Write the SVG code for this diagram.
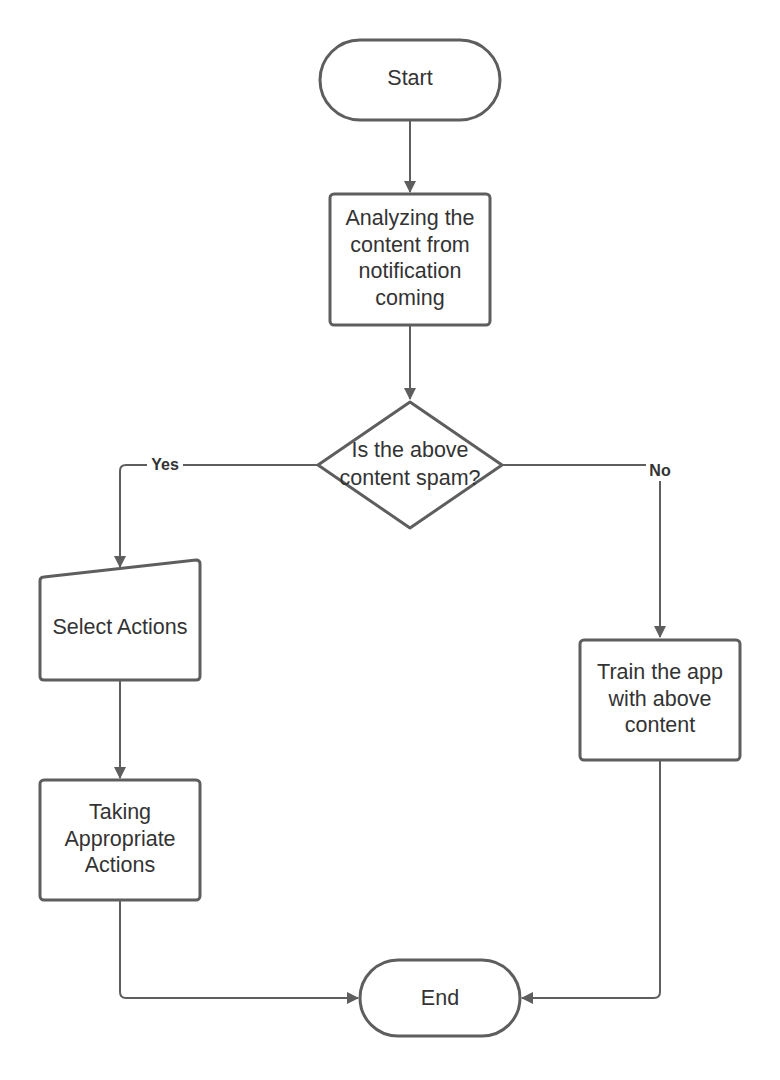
<svg xmlns="http://www.w3.org/2000/svg" width="780" height="1080" viewBox="0 0 780 1080">
<style>
.n{fill:#fff;stroke:#5e5e5e;stroke-width:3}
.c{fill:none;stroke:#5e5e5e;stroke-width:2}
.t{font-family:"Liberation Sans",Arial,sans-serif;font-size:21.5px;fill:#333;text-anchor:middle}
.l{font-family:"Liberation Sans",Arial,sans-serif;font-size:16px;font-weight:bold;fill:#333;text-anchor:middle}
</style>
<defs>
<marker id="a" viewBox="0 0 12 12" refX="11" refY="6" markerWidth="12" markerHeight="12" markerUnits="userSpaceOnUse" orient="auto">
<path d="M0,0 L12,6 L0,12 z" fill="#5e5e5e"/>
</marker>
</defs>
<rect width="780" height="1080" fill="#fff"/>
<g id="connectors">
<path class="c" d="M410,121 V192" marker-end="url(#a)"/>
<path class="c" d="M410,326 V399" marker-end="url(#a)"/>
<path class="c" d="M317,465 H126 Q120,465 120,471 V567" marker-end="url(#a)"/>
<path class="c" d="M502,465 H654 Q660,465 660,471 V637" marker-end="url(#a)"/>
<path class="c" d="M120,681 V778" marker-end="url(#a)"/>
<path class="c" d="M120,901 V992 Q120,998 126,998 H358" marker-end="url(#a)"/>
<path class="c" d="M660,761 V992 Q660,998 654,998 H522" marker-end="url(#a)"/>
<rect x="147" y="455" width="36" height="20" fill="#fff"/>
<text class="l" x="165" y="470">Yes</text>
<rect x="646" y="461" width="28" height="20" fill="#fff"/>
<text class="l" x="660" y="476">No</text>
</g>
<g id="start">
<rect class="n" x="320" y="40" width="180" height="80" rx="40"/>
<text class="t" x="410" y="85">Start</text>
</g>
<g id="analyze">
<rect class="n" x="330" y="194" width="160" height="131" rx="4"/>
<text class="t" x="410" y="225">Analyzing the</text>
<text class="t" x="410" y="252">content from</text>
<text class="t" x="410" y="278">notification</text>
<text class="t" x="410" y="305">coming</text>
</g>
<g id="decision">
<path class="n" d="M410,402 L502,465 L410,528 L318,465 Z" stroke-linejoin="round"/>
<text class="t" x="410" y="457">Is the above</text>
<text class="t" x="410" y="485">content spam?</text>
</g>
<g id="select">
<path class="n" d="M44,577 L196,560 Q200,560 200,564 V676 Q200,680 196,680 H44 Q40,680 40,676 V581 Q40,577 44,577 Z"/>
<text class="t" x="120" y="634">Select Actions</text>
</g>
<g id="taking">
<rect class="n" x="40" y="780" width="160" height="120" rx="4"/>
<text class="t" x="120" y="819">Taking</text>
<text class="t" x="120" y="846">Appropriate</text>
<text class="t" x="120" y="872">Actions</text>
</g>
<g id="train">
<rect class="n" x="580" y="640" width="160" height="120" rx="4"/>
<text class="t" x="660" y="679">Train the app</text>
<text class="t" x="660" y="706">with above</text>
<text class="t" x="660" y="732">content</text>
</g>
<g id="end">
<rect class="n" x="360" y="960" width="160" height="76" rx="38"/>
<text class="t" x="440" y="1005">End</text>
</g>
</svg>
